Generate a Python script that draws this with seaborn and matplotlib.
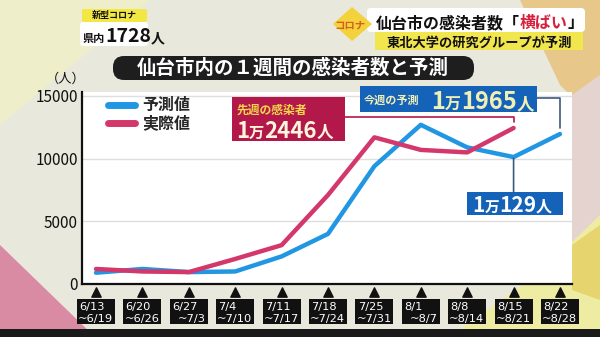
import matplotlib
matplotlib.use("Agg")
import matplotlib.pyplot as plt
import seaborn as sns
import pandas as pd
from matplotlib.patches import FancyBboxPatch, Polygon, Rectangle
from matplotlib.transforms import IdentityTransform, blended_transform_factory

# ---------------- data ----------------
week_start = ['6/13', '6/20', '6/27', '7/4', '7/11', '7/18', '7/25', '8/1', '8/8', '8/15', '8/22']
week_end = ['~6/19', '~6/26', '~7/3', '~7/10', '~7/17', '~7/24', '~7/31', '~8/7', '~8/14', '~8/21', '~8/28']
predicted = [900, 1200, 950, 1000, 2200, 4000, 9400, 12700, 10900, 10129, 11965]
actual = [1200, 1000, 950, 2000, 3100, 7100, 11700, 10700, 10500, 12446]
series_names = ['予測値', '実際値']
y_ticks = [0, 5000, 10000, 15000]

rows = []
for i, v in enumerate(predicted):
    rows.append({'week': i, 'count': v, 'series': series_names[0]})
for i, v in enumerate(actual):
    rows.append({'week': i, 'count': v, 'series': series_names[1]})
df = pd.DataFrame(rows)

BLUE = '#2196E3'
RED = '#D4376A'

sns.set_theme(style='white')
plt.rcParams['font.family'] = ['Noto Sans CJK JP', 'DejaVu Sans']

W, H = 600, 337
fig = plt.figure(figsize=(6, 3.37), dpi=100)
fig.patch.set_facecolor('#E9E8DC')
ID = IdentityTransform()


def poly(pts, color, z=-5):
    p = Polygon([(x, H - y) for x, y in pts], closed=True, facecolor=color,
                edgecolor='none', transform=ID, zorder=z)
    fig.add_artist(p)


def box(x0, y0, x1, y1, color, r=0, z=5, ec='none'):
    p = FancyBboxPatch((x0, H - y1), x1 - x0, y1 - y0,
                       boxstyle=f'round,pad=0,rounding_size={r}' if r else 'square,pad=0',
                       facecolor=color, edgecolor=ec, transform=ID, zorder=z)
    fig.add_artist(p)


renderer = fig.canvas.get_renderer()


def rich(x, y, parts, z=7, weight='bold'):
    for s, size, color in parts:
        t = fig.text(x, H - y, s, transform=ID, fontsize=size, color=color,
                     fontweight=weight, va='baseline', ha='left', zorder=z)
        bb = t.get_window_extent(renderer=renderer)
        x += bb.width


# ---------------- background ----------------
poly([(0, 0), (150, 0), (0, 125)], '#EFEECB')
poly([(0, 245), (0, H), (95, H)], '#D98BA3')
poly([(520, 0), (600, 0), (600, 125), (560, 85)], '#E7C88A')
poly([(572, 95), (600, 75), (600, 250), (572, 270)], '#E5D3CF')
poly([(600, 215), (600, H), (450, H), (545, 268)], '#EEEBA2')
poly([(572, 245), (600, 225), (600, 300), (572, 290)], '#E6D56F')

# ---------------- main axes ----------------
ax = fig.add_axes([82 / W, (H - 284) / H, (572 - 82) / W, (284 - 92) / H])
ax.set_facecolor('white')
sns.lineplot(data=df, x='week', y='count', hue='series', hue_order=series_names,
             palette=[BLUE, RED], linewidth=3.2, ax=ax, sort=False)
ax.set_xlim(-0.302, 10.259)
ax.set_ylim(0, 15319)
ax.set_yticks(y_ticks)
ax.set_yticklabels([str(v) for v in y_ticks], fontsize=11, color='#111111')
ax.set_xticks([])
ax.set_xlabel('')
ax.set_ylabel('')
ax.tick_params(axis='y', length=0, pad=3)
ax.yaxis.grid(True, color='#DEDEDE', lw=1)
ax.set_axisbelow(True)
for s in ['top', 'right']:
    ax.spines[s].set_visible(False)
for s in ['left', 'bottom']:
    ax.spines[s].set_color('#111111')
    ax.spines[s].set_linewidth(1.6)

handles, labels = ax.get_legend_handles_labels()
leg = ax.legend(handles, labels, loc='upper left', bbox_to_anchor=(0.053, 0.972),
                frameon=False, borderpad=0, borderaxespad=0, handlelength=1.7,
                handletextpad=0.45, labelspacing=0.12,
                prop={'size': 11.5, 'weight': 'bold'})
for lh in leg.get_lines():
    lh.set_linewidth(5)

# x tick boxes with triangles
tr = blended_transform_factory(ax.transData, ax.transAxes)
for i, (a, b) in enumerate(zip(week_start, week_end)):
    ax.scatter([i], [-0.043], marker='^', s=45, color='#111111', transform=tr,
               clip_on=False, zorder=5)
    ax.add_patch(Rectangle((i - 0.41, -0.208), 0.82, 0.13, transform=tr,
                           facecolor='#111111', edgecolor='none', clip_on=False))
    ax.text(i - 0.36, -0.137, a, transform=tr, ha='left', va='baseline', color='white',
            fontsize=8.2, family='DejaVu Sans', clip_on=False)
    ax.text(i + 0.37, -0.197, b, transform=tr, ha='right', va='baseline', color='white',
            fontsize=8.2, family='DejaVu Sans', clip_on=False)

fig.text(66, H - 79, '（人）', transform=ID, ha='center', va='center', fontsize=9.5,
         color='#111111')

# ---------------- annotations ----------------
# red box: last week's actual
box(232, 97, 345, 141, '#B2184A', z=5)
rich(237, 114, [('先週の感染者', 8.5, '#F3D94A')])
rich(236, 138, [('1', 16, '#FFF4DC'), ('万', 11, '#FFF4DC'), ('2446', 16, '#FFF4DC'),
                ('人', 12, '#FFF4DC')])
ax.annotate('', xy=(len(actual) - 1, actual[-1]), xytext=(345, H - 117),
            textcoords='figure pixels',
            arrowprops=dict(arrowstyle='-', color='#B2184A', lw=1.2, shrinkA=0, shrinkB=4,
                            connectionstyle='angle,angleA=0,angleB=90,rad=0'))

# blue box: this week's prediction
box(360, 86, 537, 112, '#1463B9', z=5)
rich(364, 104, [('今週の予測', 8, '#F2EFB5')])
rich(431, 109, [('1', 17, '#F2EFB5'), ('万', 11.5, '#F2EFB5'), ('1965', 17, '#F2EFB5'),
                ('人', 12.5, '#F2EFB5')])
ax.annotate('', xy=(len(predicted) - 1, predicted[-1]), xytext=(537, H - 98),
            textcoords='figure pixels',
            arrowprops=dict(arrowstyle='-', color='#3C5A7E', lw=1.2, shrinkA=0, shrinkB=4,
                            connectionstyle='angle,angleA=0,angleB=90,rad=0'))

# blue box: 8/15 prediction
box(467, 192, 563, 215, '#1463B9', z=5)
rich(472, 212, [('1', 15, 'white'), ('万', 10.5, 'white'), ('129', 15, 'white'),
                ('人', 11.5, 'white')])
ax.annotate('', xy=(9, predicted[9]), xytext=(0, -30), textcoords='offset points',
            arrowprops=dict(arrowstyle='-', color='#3C5A7E', lw=1.2, shrinkA=0, shrinkB=1))

# ---------------- title pill ----------------
box(113, 56, 474, 80, '#1E1E1E', r=11, z=5)
fig.text(293, H - 68, '仙台市内の１週間の感染者数と予測', transform=ID, ha='center',
         va='center', fontsize=14, color='white', fontweight='bold', zorder=7)

# ---------------- top-left badge ----------------
box(82, 9, 147, 22, '#F3E743', r=2, z=5)
fig.text(114.5, H - 15.5, '新型コロナ', transform=ID, ha='center', va='center',
         fontsize=6.5, color='#111111', fontweight='bold', zorder=7)
box(80, 22, 148, 46, 'white', r=3, z=5)
rich(83, 42, [('県内', 8, '#111111'), ('1728', 14, '#111111'), ('人', 10, '#111111')])

# ---------------- top-right headline ----------------
box(375, 32, 583, 50, '#F2E64E', z=5)
box(367, 8, 585, 32, 'white', r=4, z=6)
poly([(333, 24), (352, 7), (372, 24), (352, 41)], '#F3D23C', z=6)
fig.text(350, H - 26, 'コロナ', transform=ID, ha='center', va='center', fontsize=7.5,
         color='#D2601E', fontweight='bold', zorder=7)
rich(376, 28, [('仙台市の感染者数「', 11.5, '#111111'), ('横ばい', 11.5, '#D4213D'),
               ('」', 11.5, '#111111')])
rich(387, 47, [('東北大学の研究グループが予測', 9.5, '#111111')])

# bottom band
box(0, 329, 600, 337, '#1A1A1A', z=4)

fig.savefig('out.png', dpi=100)
